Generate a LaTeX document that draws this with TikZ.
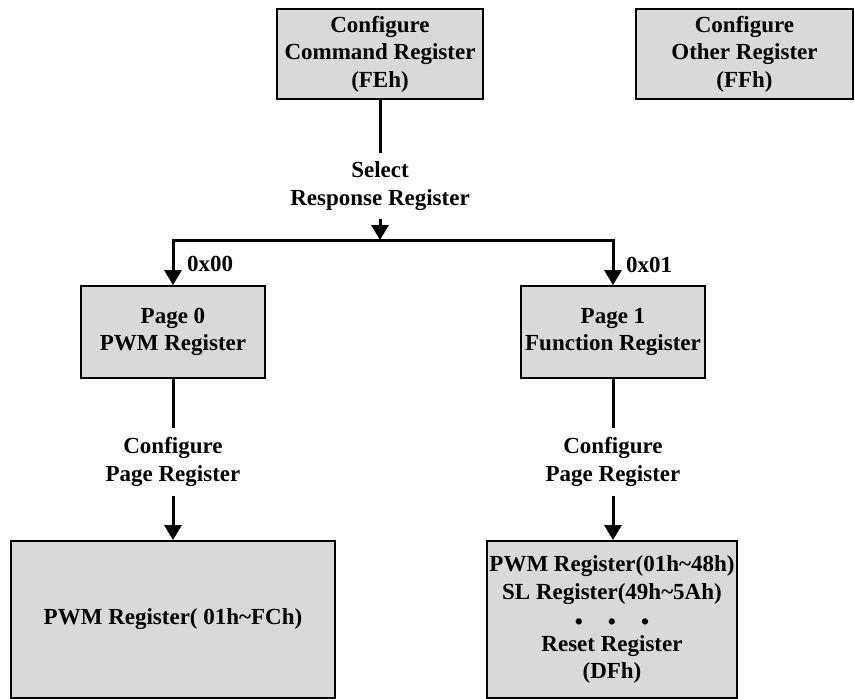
\documentclass[tikz,border=0pt]{standalone}
\usepackage{fontspec}
\setmainfont{Liberation Serif}
\usetikzlibrary{arrows.meta}
\definecolor{boxgray}{RGB}{217,217,217}
\tikzset{
  regbox/.style={draw=black, line width=1.8pt, fill=boxgray, align=center,
    inner sep=0pt, font=\bfseries\fontsize{23}{27.5}\selectfont},
  lbl/.style={align=center, inner sep=9pt, font=\bfseries\fontsize{23}{27.5}\selectfont},
  conn/.style={line width=3pt, draw=black},
  arr/.style={conn, -{Triangle[width=17pt,length=15pt]}},
  biarr/.style={conn, {Triangle[width=17pt,length=15pt]}-{Triangle[width=17pt,length=15pt]}}
}
\begin{document}
\begin{tikzpicture}[x=1pt,y=-1pt]
  \useasboundingbox (0,0) rectangle (855,699);
  \clip (0,0) rectangle (855,699);

  % top row
  \node[regbox, minimum width=206pt, minimum height=90pt] (cmd) at (380,54)
    {Configure\\Command Register\\(FEh)};
  \node[regbox, minimum width=217pt, minimum height=90pt] (other) at (744.5,54)
    {Configure\\Other Register\\(FFh)};

  % selection of the response register
  \node[lbl] (sel) at (380,186) {Select\\Response Register};
  \coordinate (junc) at (380,240);
  \coordinate (jl) at (173,240);
  \coordinate (jr) at (613,240);

  % page registers
  \node[regbox, minimum width=184pt, minimum height=92pt] (page0) at (173,332)
    {Page 0\\PWM Register};
  \node[regbox, minimum width=184pt, minimum height=92pt] (page1) at (613,332)
    {Page 1\\Function Register};
  \node[lbl, inner sep=0pt] (v0) at (210,264) {0x00};
  \node[lbl, inner sep=0pt] (v1) at (649,265) {0x01};

  % page configuration labels
  \node[lbl] (cfg0) at (173,462) {Configure\\Page Register};
  \node[lbl] (cfg1) at (613,462) {Configure\\Page Register};

  % register ranges
  \node[regbox, minimum width=324pt, minimum height=157pt] (bot0) at (173,619.5)
    {PWM Register( 01h\textasciitilde FCh)};
  \node[regbox, minimum width=250pt, minimum height=157pt] (bot1) at (612,619.5)
    {PWM Register(01h\textasciitilde 48h)\\SL Register(49h\textasciitilde 5Ah)\\[3pt]
     •\hspace{25pt}•\hspace{25pt}•\\[-6pt]
     Reset Register\\(DFh)};

  % connectors
  \draw[conn] (cmd.south) -- (sel.north);
  \draw[arr] (sel.south) -- (junc);
  \draw[biarr] (page0.north) -- (jl) -- (jr) -- (page1.north);
  \draw[conn] (page0.south) -- (cfg0.north);
  \draw[arr] (cfg0.south) -- (bot0.north);
  \draw[conn] (page1.south) -- (cfg1.north);
  \draw[arr] (cfg1.south) -- (bot1.north -| jr);
\end{tikzpicture}
\end{document}
